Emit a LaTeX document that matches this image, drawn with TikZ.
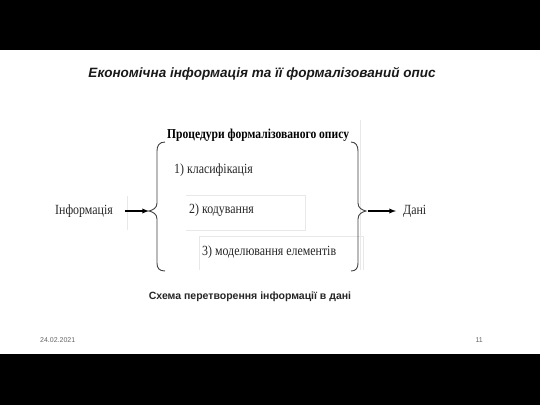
\documentclass[tikz,border=0pt]{standalone}
\usepackage{fontspec}
\setmainfont{Liberation Serif}
\setsansfont{Liberation Sans}
\newfontfamily\narrowserif[FakeStretch=0.85]{Liberation Serif}
\begin{document}
\begin{tikzpicture}[x=1pt,y=-1pt,
  band/.style={fill=black,draw=none},
  faint/.style={draw=black!9,line width=0.6pt},
  brace/.style={draw=black!75,line width=0.9pt},
  arr/.style={-latex,line width=1.3pt},
  item/.style={font=\narrowserif\fontsize{14}{15}\selectfont,inner sep=0pt,anchor=west,text=black!85},
  sans/.style={font=\sffamily},
]
\useasboundingbox (0,0) rectangle (540,405);
\fill[white] (0,0) rectangle (540,405);
\fill[band] (0,0) rectangle (540,50);
\fill[band] (0,354) rectangle (540,405);

\node[font=\sffamily\bfseries\itshape\fontsize{13.5}{15}\selectfont,text=black!90] (title) at (262,74) {Економічна інформація та її формалізований опис};

% faint artefact lines
\draw[faint] (186,195) -- (305,195) -- (305,230) -- (186,230);
\draw[faint] (199,270) -- (199,236) -- (363,236) -- (363,270);
\draw[faint] (360,120) -- (360,270);
\draw[faint] (127,196) -- (127,230);

\node[item,font=\narrowserif\fontsize{13.6}{15}\selectfont\bfseries,text=black] (head) at (167,135) {Процедури формалізованого опису};
\node[item] (i1) at (174,170) {1) класифікація};
\node[item] (i2) at (189,210) {2) кодування};
\node[item] (i3) at (202,252) {3) моделювання елементів};

\node[item] (info) at (55,211) {Інформація};
\node[item] (data) at (403,211) {Дані};

% braces
\draw[brace] (165,142) .. controls (159,142) and (157,146) .. (157,151) -- (157,203)
  .. controls (157,208) and (153,210) .. (149,211) coordinate (ltip)
  .. controls (153,212) and (157,214) .. (157,219) -- (157,263)
  .. controls (157,268) and (159,271) .. (165,271);
\draw[brace] (351,142) .. controls (356,142) and (358,146) .. (358,151) -- (358,203)
  .. controls (358,208) and (362,210) .. (366,211) coordinate (rtip)
  .. controls (362,212) and (358,214) .. (358,219) -- (358,263)
  .. controls (358,268) and (356,271) .. (351,271);

\coordinate (a1s) at (125,211);
\coordinate (a2s) at (368,211);
\draw[arr] (a1s) -- (ltip);
\draw[arr] (a2s) -- ([xshift=-7pt]data.west);

\node[sans,font=\sffamily\bfseries\fontsize{10.5}{12}\selectfont,text=black!85] (cap) at (250,297) {Схема перетворення інформації в дані};
\node[sans,font=\sffamily\fontsize{7}{8}\selectfont,text=black!60,anchor=west,inner sep=0pt] (date) at (40,340) {24.02.2021};
\node[sans,font=\sffamily\fontsize{7}{8}\selectfont,text=black!60,anchor=east,inner sep=0pt] (page) at (483,340) {11};
\end{tikzpicture}
\end{document}
